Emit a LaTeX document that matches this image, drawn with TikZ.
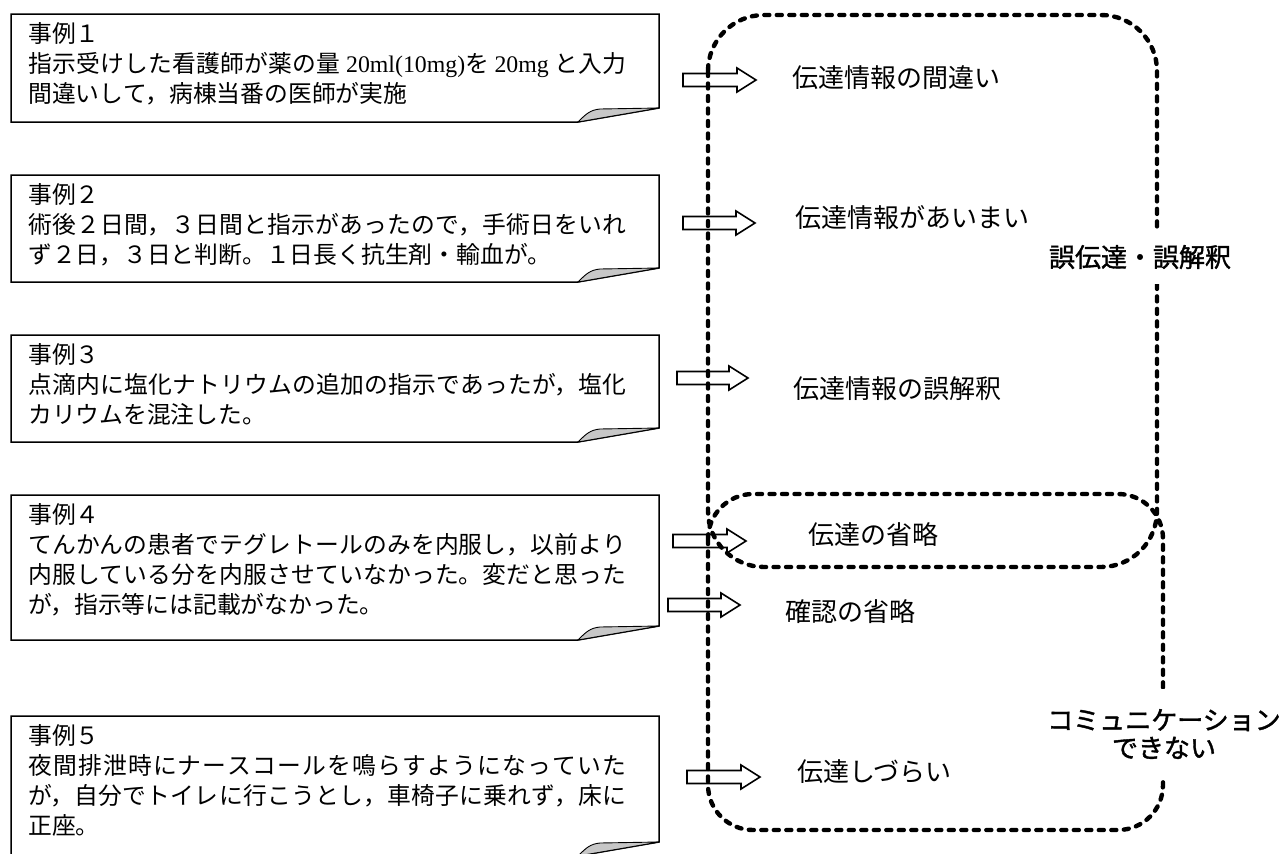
\documentclass[tikz,border=0pt]{standalone}
\usepackage{fontspec}
\setmainfont{Liberation Serif}
\newfontfamily\jp{Noto Sans CJK JP}
\newfontfamily\jpb{Noto Sans CJK JP}[FakeBold=1.5]
\newfontfamily\lat{Liberation Serif}
\newcommand\casetext[1]{\begin{minipage}[t]{598pt}\XeTeXlinebreaklocale "ja"\XeTeXlinebreakskip=0pt plus 3pt minus 0.4pt\relax #1\end{minipage}}
\newcommand\notebox[3]{%
  \draw[boxline] (11,#2) -- (659,#2) -- (659,#3-14) -- (578,#3) -- (11,#3) -- cycle;
  \draw[foldfill] (578,#3) .. controls (586,#3-8) and (590,#3-12) .. (600,#3-13) -- (659,#3-14) -- cycle;
  \coordinate (#1) at (11,#2);}
\newcommand\blockarr[4]{%
  \draw[blockarrow] (#2,#4-6.5) -- (#3-19,#4-6.5) -- (#3-19,#4-12) -- (#3,#4) -- (#3-19,#4+12) -- (#3-19,#4+6.5) -- (#2,#4+6.5) -- cycle;
  \coordinate (#1) at (#3,#4);}
\begin{document}
\begin{tikzpicture}[x=1pt,y=-1pt,
  boxline/.style={draw=black,line width=1.5pt,fill=white},
  foldfill/.style={fill=black!22,draw=black,line width=0.9pt},
  dashline/.style={line width=4.4pt,dash pattern=on 5pt off 7.5pt,line cap=round},
  blockarrow/.style={draw=black,line width=1.6pt,fill=white},
  boxtext/.style={anchor=base west,inner sep=0pt,font=\jp\fontsize{23.8}{30}\selectfont},
  catlabel/.style={anchor=west,inner sep=0pt,font=\jp\fontsize{26}{28}\selectfont},
  grouplabel/.style={fill=white,inner xsep=1pt,inner ysep=15pt,align=center,font=\jpb\fontsize{26}{28}\selectfont}]
\useasboundingbox (0,0) rectangle (1286,854);
% case boxes
\notebox{b1}{14}{122}
\notebox{b2}{175}{282}
\notebox{b3}{335}{442}
\notebox{b4}{495}{640}
\notebox{b5}{716}{856}
\node[boxtext] (t1) at (28,42) {\casetext{事例１\\%
指示受けした看護師が薬の量 {\lat 20ml(10mg)}を {\lat 20mg} と入力\linebreak%
間違いして，病棟当番の医師が実施}};
\node[boxtext] (t2) at (28,203) {\casetext{事例２\\%
術後２日間，３日間と指示があったので，手術日をいれ\linebreak%
ず２日，３日と判断。１日長く抗生剤・輸血が。}};
\node[boxtext] (t3) at (28,363) {\casetext{事例３\\%
点滴内に塩化ナトリウムの追加の指示であったが，塩化\linebreak%
カリウムを混注した。}};
\node[boxtext] (t4) at (28,523) {\casetext{事例４\\%
てんかんの患者でテグレトールのみを内服し，以前より\linebreak%
内服している分を内服させていなかった。変だと思った\linebreak%
が，指示等には記載がなかった。}};
\node[boxtext] (t5) at (28,744) {\casetext{事例５\\%
夜間排泄時にナースコールを鳴らすようになっていた\linebreak%
が，自分でトイレに行こうとし，車椅子に乗れず，床に\linebreak%
正座。}};
% block arrows
\blockarr{a1}{683}{756}{80}
\blockarr{a2}{683}{755}{223}
\blockarr{a3}{677}{748}{378}
\blockarr{a4}{673}{746}{541}
\blockarr{a5}{668}{740}{605}
\blockarr{a6}{687}{760}{777}
% dashed groups
\draw[dashline,rounded corners=56pt] (708,15) rectangle (1157,567);
\draw[dashline,rounded corners=45pt] (708,494) rectangle (1163,830);
% category labels
\node[catlabel] (l1) at (792,78) {伝達情報の間違い};
\node[catlabel] (l2) at (795,218) {伝達情報があいまい};
\node[catlabel] (l3) at (793,389) {伝達情報の誤解釈};
\node[catlabel] (l4) at (808,535) {伝達の省略};
\node[catlabel] (l5) at (785,612) {確認の省略};
\node[catlabel] (l6) at (797,772) {伝達しづらい};
% group labels
\node[grouplabel] (g1) at (1140,257) {誤伝達・誤解釈};
\node[grouplabel,inner ysep=20pt] (g2) at (1164,734) {コミュニケーション\\できない};
\end{tikzpicture}
\end{document}
